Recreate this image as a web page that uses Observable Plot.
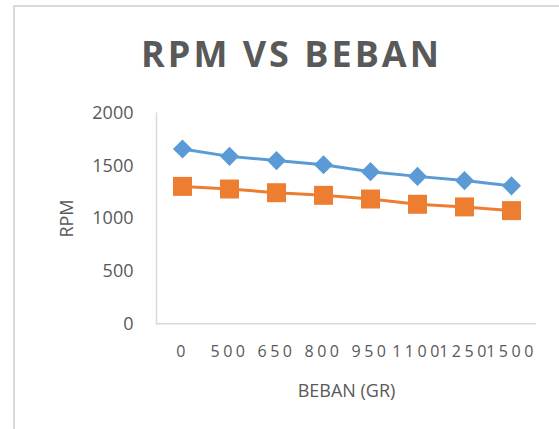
<!DOCTYPE html>
<html>
<head>
<meta charset="utf-8">
<script src="https://cdn.jsdelivr.net/npm/d3@7"></script>
<script src="https://cdn.jsdelivr.net/npm/@observablehq/plot@0.6"></script>
<style>
  html, body { margin: 0; padding: 0; background: #fff; }
  #wrap { position: relative; width: 559px; height: 429px; overflow: hidden; background: #fff; }
  #frame { position: absolute; left: 13px; top: 5px; right: -4px; bottom: -4px;
           border-left: 2px solid #d9d9d9; border-top: 2px solid #d9d9d9; pointer-events: none; }
  #title { box-sizing: border-box; height: 84px; padding-top: 36px; text-align: center;
           font-family: "Open Sans", sans-serif; font-weight: 700; font-size: 36px; line-height: 36px;
           letter-spacing: 3px; color: #595959; padding-left: 24px; }
  svg { display: block; }
</style>
</head>
<body>
<div id="wrap">
  <div id="title">RPM VS BEBAN</div>
  <div id="chart"></div>
  <div id="frame"></div>
</div>
<script>
const categories = ["0", "500", "650", "800", "950", "1100", "1250", "1500"];
const rpmSeries1 = [1660, 1590, 1550, 1510, 1445, 1400, 1360, 1310];
const rpmSeries2 = [1305, 1280, 1245, 1220, 1185, 1135, 1110, 1075];
const yTicks = [0, 500, 1000, 1500, 2000];
const colors = {blue: "#5B9BD5", orange: "#ED7D31"};

const data1 = categories.map((c, i) => ({beban: c, rpm: rpmSeries1[i]}));
const data2 = categories.map((c, i) => ({beban: c, rpm: rpmSeries2[i]}));

const chart = Plot.plot({
  width: 559,
  height: 345,
  marginLeft: 156,
  marginRight: 23,
  marginTop: 28.7,
  marginBottom: 105.7,
  style: {fontFamily: "'Open Sans', sans-serif", color: "#595959", background: "white", overflow: "visible"},
  x: {type: "point", domain: categories, padding: 0.5},
  y: {domain: [0, 2000]},
  marks: [
    Plot.frame({anchor: "left", stroke: "#d9d9d9", strokeWidth: 1.5}),
    Plot.ruleY([0], {stroke: "#d9d9d9", strokeWidth: 1.5}),
    Plot.axisY(yTicks, {tickSize: 0, tickPadding: 23, fontSize: 18, label: null, tickFormat: d3.format("d")}),
    Plot.axisY({ticks: [], tickSize: 0, label: "RPM", labelAnchor: "center", labelOffset: 96, labelArrow: "none", fontSize: 18}),
    Plot.axisX({tickSize: 0, tickPadding: 22, fontSize: 16, label: null}),
    Plot.axisX({ticks: [], tickSize: 0, label: "BEBAN (GR)", labelAnchor: "center", labelOffset: 73, labelArrow: "none", fontSize: 18}),
    Plot.line(data1, {x: "beban", y: "rpm", stroke: colors.blue, strokeWidth: 3}),
    Plot.line(data2, {x: "beban", y: "rpm", stroke: colors.orange, strokeWidth: 3}),
    Plot.dot(data1, {x: "beban", y: "rpm", symbol: "diamond2", r: 8.6, fill: colors.blue, stroke: "none"}),
    Plot.dot(data2, {x: "beban", y: "rpm", symbol: "square", r: 10.7, fill: colors.orange, stroke: "none"})
  ]
});
document.getElementById("chart").appendChild(chart);
chart.querySelectorAll('[aria-label="x-axis tick label"] text').forEach(t => t.setAttribute("letter-spacing", "3.5px"));
</script>
</body>
</html>
